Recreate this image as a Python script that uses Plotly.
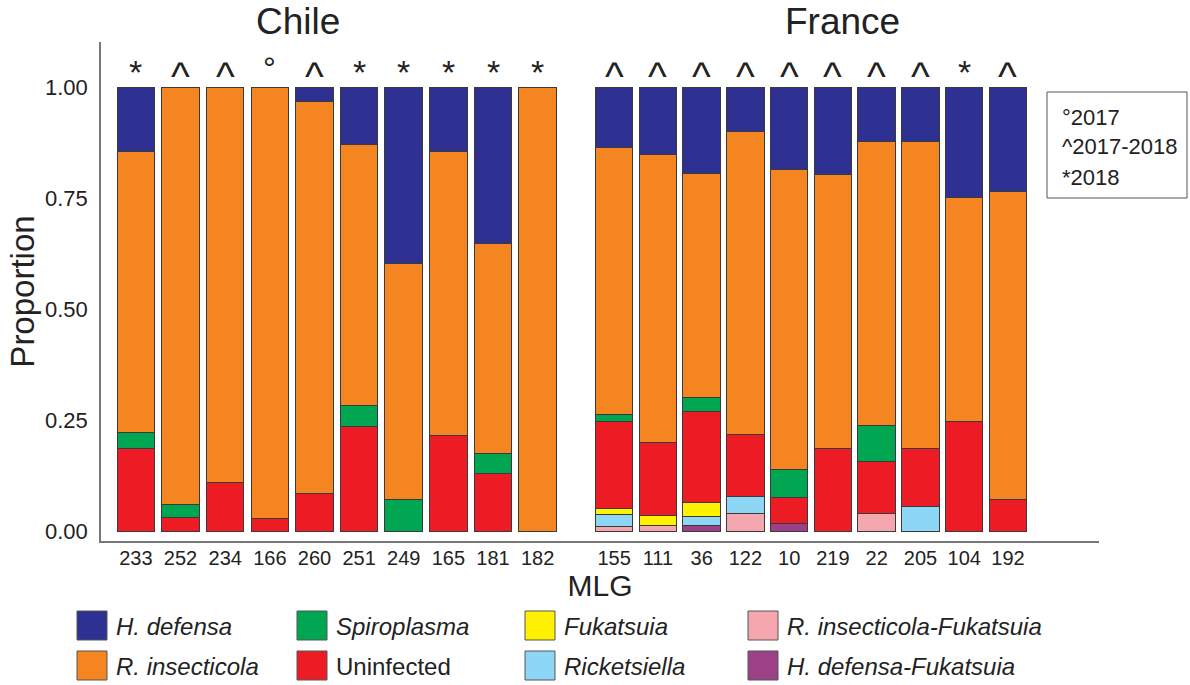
import plotly.graph_objects as go

# MLG labels per country
chile_mlg = ["233", "252", "234", "166", "260", "251", "249", "165", "181", "182"]
france_mlg = ["155", "111", "36", "122", "10", "219", "22", "205", "104", "192"]

# Sampling-year codes shown above each bar
chile_year = ["*", "^", "^", "°", "^", "*", "*", "*", "*", "*"]
france_year = ["^", "^", "^", "^", "^", "^", "^", "^", "*", "^"]

# Proportions per symbiont category (Chile then France), bottom to top of the stack
r_ins_fuk = [0, 0, 0, 0, 0, 0, 0, 0, 0, 0,
             0.011, 0.013, 0, 0.041, 0, 0, 0.041, 0, 0, 0]
h_def_fuk = [0, 0, 0, 0, 0, 0, 0, 0, 0, 0,
             0, 0, 0.013, 0, 0.019, 0, 0, 0, 0, 0]
ricketsiella = [0, 0, 0, 0, 0, 0, 0, 0, 0, 0,
                0.027, 0, 0.022, 0.038, 0, 0, 0, 0.056, 0, 0]
fukatsuia = [0, 0, 0, 0, 0, 0, 0, 0, 0, 0,
             0.014, 0.023, 0.030, 0, 0, 0, 0, 0, 0, 0]
uninfected = [0.188, 0.033, 0.110, 0.029, 0.085, 0.236, 0, 0.216, 0.131, 0,
              0.196, 0.164, 0.206, 0.139, 0.058, 0.188, 0.118, 0.132, 0.249, 0.073]
spiroplasma = [0.036, 0.028, 0, 0, 0, 0.049, 0.073, 0, 0.045, 0,
               0.015, 0, 0.030, 0, 0.062, 0, 0.080, 0, 0, 0]
r_insecticola = [0.632, 0.939, 0.890, 0.971, 0.882, 0.587, 0.531, 0.640, 0.473, 1.0,
                 0.601, 0.649, 0.505, 0.683, 0.675, 0.616, 0.639, 0.691, 0.502, 0.692]
h_defensa = [0.144, 0, 0, 0, 0.033, 0.128, 0.396, 0.144, 0.351, 0,
             0.136, 0.151, 0.194, 0.099, 0.186, 0.196, 0.122, 0.121, 0.249, 0.235]

year_key = ["°2017", "^2017-2018", "*2018"]

series = [
    ("R. insecticola-Fukatsuia", r_ins_fuk, "#F4A7AE"),
    ("H. defensa-Fukatsuia", h_def_fuk, "#9C4188"),
    ("Ricketsiella", ricketsiella, "#8DD6F6"),
    ("Fukatsuia", fukatsuia, "#FFF200"),
    ("Uninfected", uninfected, "#ED1C24"),
    ("Spiroplasma", spiroplasma, "#00A651"),
    ("R. insecticola", r_insecticola, "#F58520"),
    ("H. defensa", h_defensa, "#2E3192"),
]
colors = {name: c for name, _, c in series}

# x positions: Chile group, a gap, then France group
x_pos = [i * 1.01 for i in range(10)] + [10.82 + j * 0.99 for j in range(10)]
mlg = chile_mlg + france_mlg
years = chile_year + france_year

W, H = 1190, 685
L, R, T, B = 101, 91, 42, 144
PW, PH = W - L - R, H - T - B


def px(x):
    return (x - L) / PW


def py(y):
    return (H - B - y) / PH


FONT = "Liberation Sans, Arial, sans-serif"
INK = "#222"

fig = go.Figure()
for name, vals, col in series:
    fig.add_trace(go.Bar(
        x=x_pos, y=vals, name=name, width=0.85,
        marker=dict(color=col, line=dict(color="#3a3a3a", width=1)),
        showlegend=False,
    ))

annotations = []
sym_size = {"^": 40, "*": 34, "°": 32}
sym_shift = {"^": -8, "*": -4, "°": 0}
for x, s in zip(x_pos, years):
    annotations.append(dict(x=x, y=1.043, xref="x", yref="y", text=s,
                            showarrow=False, xanchor="center", yanchor="middle",
                            font=dict(size=sym_size[s], color=INK, family=FONT),
                            yshift=sym_shift[s]))

# group titles
for label, cx in [("Chile", 298), ("France", 842)]:
    annotations.append(dict(x=px(cx), y=py(22), xref="paper", yref="paper", text=label,
                            showarrow=False, xanchor="center", yanchor="middle",
                            font=dict(size=37, color=INK, family=FONT)))

# sampling-year key box
shapes = [dict(type="rect", xref="paper", yref="paper",
               x0=px(1047), x1=px(1187), y0=py(198), y1=py(92),
               line=dict(color="#555", width=1), fillcolor="white")]
for txt, yy in zip(year_key, [117, 146, 177]):
    annotations.append(dict(x=px(1060), y=py(yy), xref="paper", yref="paper", text=txt,
                            xanchor="left", yanchor="middle", showarrow=False,
                            font=dict(size=22, color=INK, family=FONT)))

# category key below the axis
key_layout = [
    ("H. defensa", 77, 611), ("Spiroplasma", 297, 611), ("Fukatsuia", 525, 611),
    ("R. insecticola-Fukatsuia", 748, 611),
    ("R. insecticola", 77, 651), ("Uninfected", 297, 651), ("Ricketsiella", 525, 651),
    ("H. defensa-Fukatsuia", 748, 651),
]
for name, x0, y0 in key_layout:
    shapes.append(dict(type="rect", xref="paper", yref="paper",
                       x0=px(x0), x1=px(x0 + 30), y0=py(y0 + 29), y1=py(y0),
                       fillcolor=colors[name], line=dict(color="#555", width=1)))
    label = name if name == "Uninfected" else f"<i>{name}</i>"
    annotations.append(dict(x=px(x0 + 37), y=py(y0 + 15), xref="paper", yref="paper",
                            text=label, xanchor="left", yanchor="middle", showarrow=False,
                            font=dict(size=24, color=INK, family=FONT)))

fig.update_layout(
    barmode="stack",
    width=W, height=H,
    margin=dict(l=L, r=R, t=T, b=B),
    paper_bgcolor="white", plot_bgcolor="white",
    font=dict(family=FONT, color=INK),
    annotations=annotations,
    shapes=shapes,
    xaxis=dict(range=[-0.79, 21.79], tickvals=x_pos, ticktext=mlg,
               showline=True, linecolor="#777", linewidth=1.5, showgrid=False,
               zeroline=False, ticks="", tickfont=dict(size=20, color=INK),
               ticklabelstandoff=-2,
               title=dict(text="MLG", font=dict(size=30, color=INK), standoff=2)),
    yaxis=dict(range=[-0.021, 1.102], tickvals=[0, 0.25, 0.5, 0.75, 1.0],
               ticktext=["0.00", "0.25", "0.50", "0.75", "1.00"],
               showline=True, linecolor="#777", linewidth=1.5, showgrid=False,
               zeroline=False, ticks="", tickfont=dict(size=22, color=INK),
               ticklabelstandoff=7,
               title=dict(text="Proportion", font=dict(size=33, color=INK), standoff=0)),
)

fig.write_html("out.html")
